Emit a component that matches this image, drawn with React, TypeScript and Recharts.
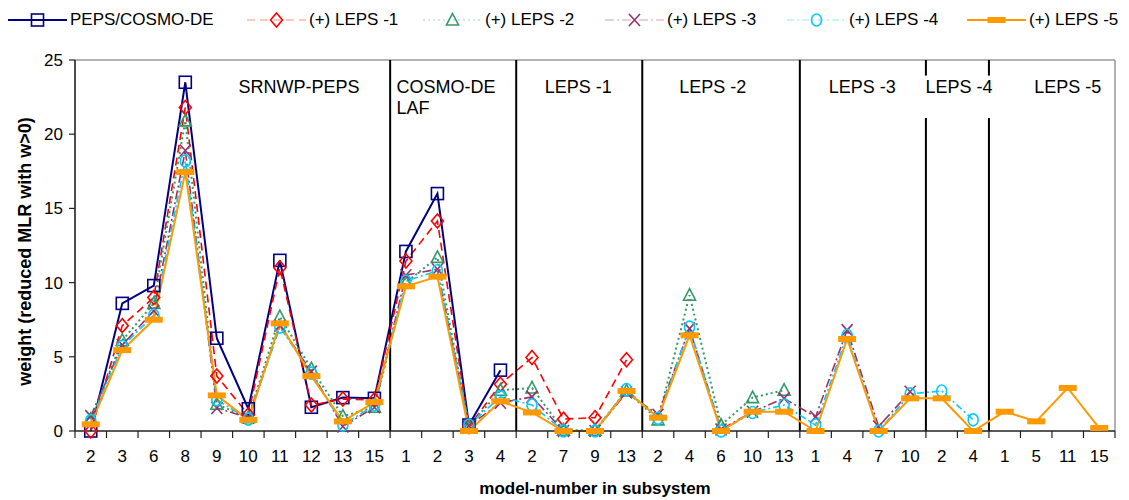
import React from 'react';
import { LineChart, Line, XAxis, YAxis, ReferenceLine, ReferenceDot, Legend, Label } from 'recharts';

const FONT = '"Liberation Sans", Arial, sans-serif';

// Subsystems and the model numbers that carry a weight in each of them
const subsystemNames = ['SRNWP-PEPS', 'COSMO-DE LAF', 'LEPS -1', 'LEPS -2', 'LEPS -3', 'LEPS -4', 'LEPS -5'];
const subsystemModels = [
  ['2', '3', '6', '8', '9', '10', '11', '12', '13', '15'],
  ['1', '2', '3', '4'],
  ['2', '7', '9', '13'],
  ['2', '4', '6', '10', '13'],
  ['1', '4', '7', '10'],
  ['2', '4'],
  ['1', '5', '11', '15'],
];

// Weights per ensemble configuration (one value per model, in subsystem order)
const pepsCosmo = [0, 8.6, 9.8, 23.5, 6.25, 1.5, 11.5, 1.6, 2.25, 2.2, 12.1, 16.0, 0.4, 4.1];
const leps1 = [0, 7.1, 9.0, 21.8, 3.7, 1.1, 11.0, 1.75, 2.15, 2.1, 11.45, 14.15, 0.3, 3.15, 4.95, 0.8, 0.9, 4.8];
const leps2 = [0.8, 6.1, 8.6, 20.9, 1.8, 0.9, 7.7, 4.2, 1.0, 1.6, 10.0, 11.7, 0.3, 2.75, 2.9, 0.05, 0.05, 2.7,
  0.75, 9.15, 0.4, 2.25, 2.75];
const leps3 = [1.0, 5.8, 8.1, 18.9, 1.55, 0.9, 7.1, 4.0, 0.3, 1.6, 10.5, 10.9, 0.35, 1.9, 2.3, 0, 0, 2.6,
  1.1, 6.9, 0.1, 1.3, 2.2, 0.95, 6.8, 0.3, 2.65];
const leps4 = [0.7, 5.7, 7.8, 18.2, 2.1, 0.8, 7.0, 3.9, 0.4, 1.75, 10.1, 10.8, 0.4, 2.3, 1.75, 0, 0, 2.8,
  0.85, 7.0, 0, 1.25, 1.75, 0.4, 6.45, 0, 2.5, 2.7, 0.75];
const leps5 = [0.45, 5.45, 7.5, 17.45, 2.4, 0.75, 7.25, 3.7, 0.65, 1.95, 9.75, 10.4, 0, 2.0, 1.25, 0, 0, 2.7,
  0.9, 6.45, 0, 1.3, 1.3, 0, 6.2, 0, 2.2, 2.2, 0, 1.3, 0.65, 2.9, 0.2];

const yTicks = [0, 5, 10, 15, 20, 25];

type MarkerType = 'square' | 'diamond' | 'triangle' | 'cross' | 'circle' | 'bar';

interface SeriesDef {
  key: string;
  name: string;
  values: number[];
  color: string;
  width: number;
  dash?: string;
  marker: MarkerType;
}

const seriesDefs: SeriesDef[] = [
  { key: 'peps', name: 'PEPS/COSMO-DE', values: pepsCosmo, color: '#000080', width: 2, marker: 'square' },
  { key: 'l1', name: '(+) LEPS -1', values: leps1, color: '#FF0000', width: 1.6, dash: '8 5', marker: 'diamond' },
  { key: 'l2', name: '(+) LEPS -2', values: leps2, color: '#339966', width: 2, dash: '2 3', marker: 'triangle' },
  { key: 'l3', name: '(+) LEPS -3', values: leps3, color: '#993366', width: 1.6, dash: '9 3 2 3', marker: 'cross' },
  { key: 'l4', name: '(+) LEPS -4', values: leps4, color: '#00CCFF', width: 1.6, dash: '7 3 2 3', marker: 'circle' },
  { key: 'l5', name: '(+) LEPS -5', values: leps5, color: '#FF9900', width: 2, marker: 'bar' },
];

const categories = subsystemModels.flatMap((models, g) => models.map((m) => `${subsystemNames[g]}:${m}`));

// each row also carries the centre of its band in band units, for the edge axis
const data = categories.map((key, i) => {
  const row: Record<string, string | number | null> = { key, band: i + 0.5 };
  seriesDefs.forEach((s) => {
    row[s.key] = i < s.values.length ? s.values[i] : null;
  });
  return row;
});

// edges between subsystems, in band units
const subsystemEdges = subsystemModels
  .map((_, g) => subsystemModels.slice(0, g + 1).reduce((acc, m) => acc + m.length, 0))
  .slice(0, -1);
const leps4Edges = [subsystemEdges[4], subsystemEdges[5]];

// subsystem captions, placed in band units / weight units
const captions = [
  { lines: ['SRNWP-PEPS'], x: 7.11, y: 23.17, anchor: 'middle' },
  { lines: ['COSMO-DE', 'LAF'], x: 10.2, y: 23.17, anchor: 'start' },
  { lines: ['LEPS -1'], x: 15.97, y: 23.17, anchor: 'middle' },
  { lines: ['LEPS -2'], x: 20.24, y: 23.17, anchor: 'middle' },
  { lines: ['LEPS -3'], x: 24.98, y: 23.17, anchor: 'middle' },
  { lines: ['LEPS -4'], x: 28.05, y: 23.17, anchor: 'middle' },
  { lines: ['LEPS -5'], x: 31.5, y: 23.17, anchor: 'middle' },
];

function Marker({ type, cx, cy, color }: { type: MarkerType; cx: number; cy: number; color: string }) {
  const sw = 1.6;
  switch (type) {
    case 'square':
      return <rect x={cx - 6} y={cy - 6} width={12} height={12} fill="none" stroke={color} strokeWidth={sw} />;
    case 'diamond':
      return (
        <path d={`M${cx},${cy - 7}L${cx + 6},${cy}L${cx},${cy + 7}L${cx - 6},${cy}Z`} fill="none" stroke={color} strokeWidth={sw} />
      );
    case 'triangle':
      return (
        <path d={`M${cx},${cy - 6.5}L${cx + 6},${cy + 5}L${cx - 6},${cy + 5}Z`} fill="none" stroke={color} strokeWidth={sw} />
      );
    case 'cross':
      return (
        <path
          d={`M${cx - 5.5},${cy - 6}L${cx + 5.5},${cy + 6}M${cx + 5.5},${cy - 6}L${cx - 5.5},${cy + 6}`}
          fill="none"
          stroke={color}
          strokeWidth={sw}
        />
      );
    case 'circle':
      return <ellipse cx={cx} cy={cy} rx={5} ry={6} fill="none" stroke={color} strokeWidth={sw} />;
    case 'bar':
    default:
      return <rect x={cx - 9} y={cy - 3} width={18} height={6} fill={color} />;
  }
}

const legendWidths = [239, 176, 182, 182, 180, 160];

function LegendRow() {
  return (
    <div
      style={{
        display: 'flex',
        boxSizing: 'border-box',
        height: 60,
        paddingLeft: 8,
        paddingTop: 8,
        fontFamily: FONT,
        fontSize: 17,
        color: '#000',
      }}
    >
      {seriesDefs.map((s, i) => (
        <div key={s.key} style={{ width: legendWidths[i], height: 24, display: 'flex', alignItems: 'center', flex: 'none' }}>
          <svg width={59} height={24} style={{ flex: 'none' }}>
            <line
              x1={0}
              x2={59}
              y1={12}
              y2={12}
              stroke={s.color}
              strokeWidth={s.dash ? 1.2 : 2}
              strokeDasharray={s.dash}
              strokeOpacity={s.dash ? 0.45 : 1}
            />
            <Marker type={s.marker} cx={29.5} cy={12} color={s.color} />
          </svg>
          <span style={{ marginLeft: 3, whiteSpace: 'nowrap', lineHeight: '20px' }}>{s.name}</span>
        </div>
      ))}
    </div>
  );
}

// Category tick: model number centred in its band, tick marks on the band edges
function ModelTick(props: any) {
  const { x, y, payload, index, visibleTicksCount, width } = props;
  const label = String(payload.value).split(':')[1];
  const half =
    typeof payload.offset === 'number' && payload.offset > 0
      ? payload.offset
      : (Number(width) || 1040) / (visibleTicksCount || categories.length) / 2;
  const isLast = index === (visibleTicksCount || categories.length) - 1;
  return (
    <g>
      <line x1={x - half} x2={x - half} y1={y} y2={y + 7} stroke="#222" strokeWidth={1.2} />
      {isLast && <line x1={x + half} x2={x + half} y1={y} y2={y + 7} stroke="#222" strokeWidth={1.2} />}
      <text x={x} y={y + 31} textAnchor="middle" fontSize={17} fontFamily={FONT} fill="#000">
        {label}
      </text>
    </g>
  );
}

function YTitle(props: any) {
  const vb = props.viewBox || { x: 0, y: 60, width: 75, height: 371 };
  const cx = vb.x + 25;
  const cy = vb.y + vb.height / 2 + 6;
  return (
    <text
      x={cx}
      y={cy}
      transform={`rotate(-90, ${cx}, ${cy})`}
      textAnchor="middle"
      dominantBaseline="central"
      fontSize={18}
      fontWeight="bold"
      fontFamily={FONT}
      fill="#000"
    >
      weight (reduced MLR with w&gt;0)
    </text>
  );
}

function Caption({ cx, cy, lines, anchor }: any) {
  if (cx == null || cy == null) return <g />;
  return (
    <text x={cx} y={cy} textAnchor={anchor} fontSize={18} fontFamily={FONT} fill="#000" dominantBaseline="central">
      {lines.map((t: string, i: number) => (
        <tspan key={t} x={cx} dy={i === 0 ? 0 : 21}>
          {t}
        </tspan>
      ))}
    </text>
  );
}

export default function App() {
  return (
    <div style={{ position: 'absolute', left: 0, top: 0, width: 1129, height: 500, background: '#fff' }}>
      <LineChart width={1129} height={500} data={data} margin={{ top: 0, right: 14, bottom: 0, left: 0 }}>
        <Legend verticalAlign="top" align="left" content={() => <LegendRow />} wrapperStyle={{ left: 0, top: 0 }} />
        <XAxis
          xAxisId="edges"
          dataKey="band"
          type="number"
          domain={[0, categories.length]}
          tick={false}
          tickLine={false}
          axisLine={false}
          height={0}
        />
        <XAxis
          dataKey="key"
          type="category"
          scale="band"
          interval={0}
          tickSize={0}
          tickMargin={0}
          tickLine={false}
          axisLine={{ stroke: '#222', strokeWidth: 1.6 }}
          height={69}
          tick={<ModelTick />}
        >
          <Label
            value="model-number in subsystem"
            position="insideBottom"
            offset={6}
            style={{ fontSize: 17, fontWeight: 'bold', fontFamily: FONT, fill: '#000' }}
          />
        </XAxis>
        <YAxis
          domain={[0, 25]}
          ticks={yTicks}
          width={75}
          tickSize={6}
          tickMargin={6}
          axisLine={{ stroke: '#222', strokeWidth: 1.6 }}
          tickLine={{ stroke: '#222', strokeWidth: 1.2 }}
          tick={{ fill: '#000', fontSize: 17, fontFamily: FONT }}
          label={<YTitle />}
        />

        {/* plot frame: top and right borders */}
        <ReferenceLine y={25} stroke="#999" strokeWidth={1.5} />
        <ReferenceLine xAxisId="edges" x={categories.length} stroke="#999" strokeWidth={1.5} />

        {subsystemEdges
          .filter((e) => !leps4Edges.includes(e))
          .map((e) => (
            <ReferenceLine key={`edge-${e}`} xAxisId="edges" x={e} stroke="#000" strokeWidth={2} />
          ))}
        {leps4Edges.map((e) => (
          <ReferenceLine
            key={`lo-${e}`}
            xAxisId="edges"
            segment={[{ x: e, y: 0 }, { x: e, y: 21.1 }]}
            stroke="#000"
            strokeWidth={2}
          />
        ))}
        {leps4Edges.map((e) => (
          <ReferenceLine
            key={`hi-${e}`}
            xAxisId="edges"
            segment={[{ x: e, y: 23.95 }, { x: e, y: 25 }]}
            stroke="#000"
            strokeWidth={2}
          />
        ))}
        {captions.map((c) => (
          <ReferenceDot
            key={c.lines[0]}
            xAxisId="edges"
            x={c.x}
            y={c.y}
            r={0}
            shape={(p: any) => <Caption cx={p.cx} cy={p.cy} lines={c.lines} anchor={c.anchor} />}
          />
        ))}

        {seriesDefs.map((s) => (
          <Line
            key={s.key}
            dataKey={s.key}
            name={s.name}
            type="linear"
            stroke={s.color}
            strokeWidth={s.width}
            strokeDasharray={s.dash}
            isAnimationActive={false}
            dot={(p: any) =>
              p.cx == null || p.cy == null || p.value == null ? (
                <g key={`${s.key}-${p.index}`} />
              ) : (
                <g key={`${s.key}-${p.index}`}>
                  <Marker type={s.marker} cx={p.cx} cy={p.cy} color={s.color} />
                </g>
              )
            }
            activeDot={false}
          />
        ))}
      </LineChart>
    </div>
  );
}
